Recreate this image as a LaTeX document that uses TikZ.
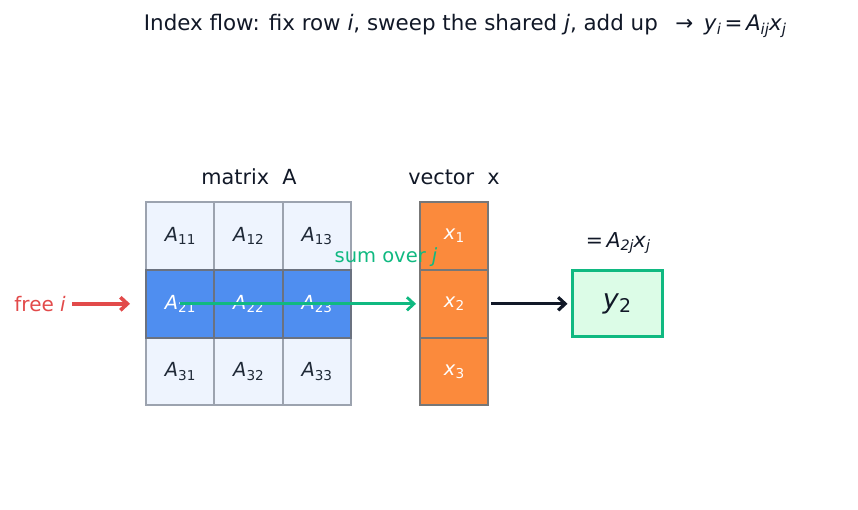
\documentclass[tikz,border=0pt]{standalone}
\usepackage{fontspec}
\setmainfont{DejaVu Sans}
\usetikzlibrary{arrows.meta}
\definecolor{cellbg}{HTML}{EEF4FE}
\definecolor{cellbd}{HTML}{9CA3AF}
\definecolor{rowbg}{HTML}{4F8EF0}
\definecolor{rowbd}{HTML}{6B7280}
\definecolor{vecbg}{HTML}{FB8A3C}
\definecolor{vecbd}{HTML}{777777}
\definecolor{ink}{HTML}{1F2937}
\definecolor{grn}{HTML}{10B981}
\definecolor{grnbg}{HTML}{DCFCE7}
\definecolor{redc}{HTML}{E24A4A}
\definecolor{blk}{HTML}{111827}
\newcommand{\sub}[2]{\textit{#1}\raisebox{-0.3ex}{\fontsize{0.7\dimexpr\fontdimen6\font\relax}{1pt}\selectfont #2}}
\newcommand{\isub}[2]{\textit{#1}\raisebox{-0.3ex}{\fontsize{0.7\dimexpr\fontdimen6\font\relax}{1pt}\selectfont\itshape #2}}
\begin{document}
\begin{tikzpicture}[x=1pt,y=-1pt,
  cell/.style={draw=cellbd,fill=cellbg,line width=1.8pt,minimum width=68.3pt,minimum height=67.7pt,inner sep=0pt,text=ink,font=\fontsize{19.4}{20}\selectfont},
  hrow/.style={cell,draw=rowbd,fill=rowbg,text=white},
  vcell/.style={cell,draw=vecbd,fill=vecbg,text=white,minimum width=68pt},
  lbl/.style={font=\fontsize{21.4}{22}\selectfont,text=blk,inner sep=0pt},
  arr/.style={line width=#1,-{Straight Barb[length=7pt,width=13pt]}}]
\useasboundingbox (0,0) rectangle (858,510);
\node[lbl] (title) at (465,26) {Index flow: fix row \textit{i}, sweep the shared \textit{j}, add up \enspace→\enspace \isub{y}{i}\,=\,\isub{A}{ij}\isub{x}{j}};
\node[lbl,font=\fontsize{20.8}{22}\selectfont] (labA) at (249,177) {matrix\ \ A};
\node[lbl,font=\fontsize{20.8}{22}\selectfont] (labx) at (454,177) {vector\ \ x};
% matrix
\foreach \r/\yy in {1/236,3/371.5}{
  \foreach \c/\xx in {1/180.2,2/248.5,3/316.8}{
    \node[cell] (a\r\c) at (\xx,\yy) {\sub{A}{\r\c}};
  }
}
\foreach \c/\xx in {1/180.2,2/248.5,3/316.8}{
  \node[hrow] (a2\c) at (\xx,303.8) {\sub{A}{2\c}};
}
% vector
\foreach \r/\yy in {1/236,2/303.8,3/371.5}{
  \node[vcell] (x\r) at (454,\yy) {\sub{x}{\r}};
}
% result
\node[draw=grn,fill=grnbg,line width=3pt,minimum width=90pt,minimum height=66pt,inner sep=0pt,text=blk,font=\fontsize{27}{28}\selectfont] (y2) at (617,303.8) {\sub{y}{2}};
\node[font=\fontsize{20.5}{21}\selectfont,text=blk] (eq) at (618,243) {=\,\isub{A}{2\textit{j}}\isub{x}{j}};
% free i
\node[font=\fontsize{20}{21}\selectfont,text=redc,anchor=east,inner sep=0pt] (free) at (66,303.8) {free \textit{i}};
\coordinate (fe) at (130,303.8);
\draw[redc,arr=3.6pt] ([xshift=6pt]free.east) -- (fe);
% sum over j
\coordinate (gs) at (180,303.8);
\coordinate (ge) at (416,303.8);
\draw[grn,arr=2.8pt] (gs) -- (ge);
\node[font=\fontsize{19.5}{20}\selectfont,text=grn] (sum) at (386,257) {sum over \textit{j}};
% to y
\draw[blk,arr=3.2pt] ([xshift=2pt]x2.east) -- ([xshift=-3pt]y2.west);
\end{tikzpicture}
\end{document}
